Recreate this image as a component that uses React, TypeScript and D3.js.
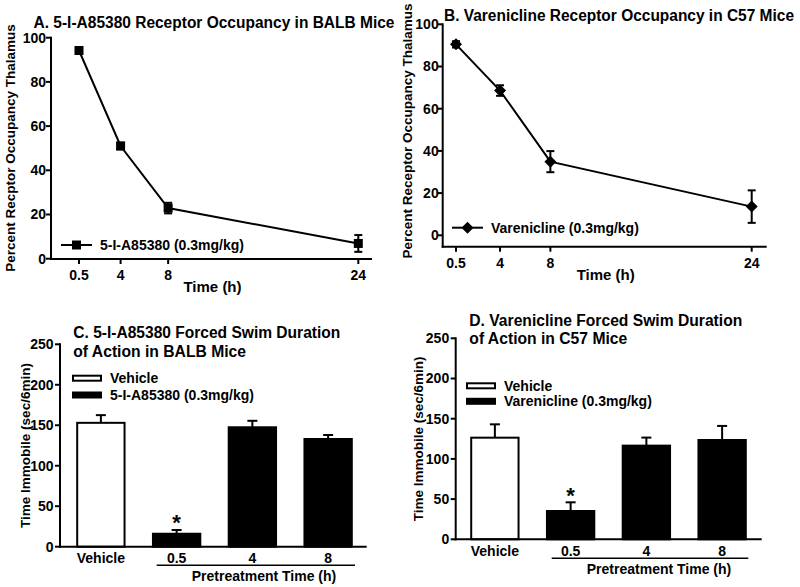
import React from "react";
import * as d3 from "d3";

// ---------- data ----------
const timeTicks = [0.5, 4, 8, 24];
const yTicksOcc = [0, 20, 40, 60, 80, 100];

const timesA = [0.5, 4, 8, 24];
const occA = [94.2, 51, 22.9, 6.9];
const occAErr = [1.2, 1.5, 2.4, 3.8];

const timesB = [0.5, 4, 8, 24];
const occB = [90.5, 68.6, 34.9, 13.6];
const occBErr = [1.5, 2.5, 5, 7.7];

const barCats = ["Vehicle", "0.5", "4", "8"];
const yTicksSwim = [0, 50, 100, 150, 200, 250];
const swimC = [153, 16, 147.5, 133];
const swimCErr = [9.5, 4.6, 8, 5];
const swimD = [126.4, 35.2, 116.5, 123.5];
const swimDErr = [16.6, 10.8, 10, 17.5];

const FONT = "'Liberation Sans', Arial, sans-serif";
const TICK_FS = 14;
const TITLE_FS = 15.8;

type LineProps = {
  title: string;
  titleX: number;
  titleY: number;
  titleLen: number;
  yLabel: string;
  yLabelX: number;
  yLabelY: number;
  xLeft: number;
  xRight: number;
  x05: number;
  x24: number;
  yTop: number;
  yZero: number;
  xAxisY: number;
  tickGap: number;
  times: number[];
  vals: number[];
  errs: number[];
  marker: "square" | "diamond";
  legend: string;
  legX: number;
  legY: number;
};

function Marker({ kind, x, y }: { kind: string; x: number; y: number }) {
  if (kind === "square") {
    return <rect x={x - 4.5} y={y - 4.5} width={9} height={9} fill="#000" />;
  }
  const r = 6;
  return (
    <path
      d={`M${x},${y - r}L${x + r},${y}L${x},${y + r}L${x - r},${y}Z`}
      fill="#000"
    />
  );
}

function LinePanel(p: LineProps) {
  const x = d3.scaleLinear().domain([0.5, 24]).range([p.x05, p.x24]);
  const y = d3.scaleLinear().domain([0, 100]).range([p.yZero, p.yTop]);
  const line = d3
    .line<number>()
    .x((_, i) => x(p.times[i]))
    .y((d) => y(d));
  return (
    <g>
      <text
        x={p.titleX}
        y={p.titleY}
        textAnchor="middle"
        fontSize={TITLE_FS}
        fontWeight="bold"
        fontFamily={FONT}
        dy="0.35em"
        textLength={p.titleLen}
        lengthAdjust="spacingAndGlyphs"
      >
        {p.title}
      </text>
      {/* y axis */}
      <line x1={p.xLeft} x2={p.xLeft} y1={p.yTop - 1} y2={p.xAxisY + 1} stroke="#000" strokeWidth={2} />
      {yTicksOcc.map((t) => (
        <g key={t}>
          <line x1={p.xLeft - 5} x2={p.xLeft} y1={y(t)} y2={y(t)} stroke="#000" strokeWidth={2} />
          <text
            x={p.xLeft - p.tickGap}
            y={y(t)}
            dy="0.35em"
            textAnchor="end"
            fontSize={TICK_FS}
            fontWeight="bold"
            fontFamily={FONT}
          >
            {t}
          </text>
        </g>
      ))}
      {/* x axis */}
      <line x1={p.xLeft - 1} x2={p.xRight} y1={p.xAxisY} y2={p.xAxisY} stroke="#000" strokeWidth={2} />
      {timeTicks.map((t) => (
        <g key={t}>
          <line x1={x(t)} x2={x(t)} y1={p.xAxisY} y2={p.xAxisY + 5} stroke="#000" strokeWidth={2} />
          <text
            x={x(t)}
            y={p.xAxisY + 16}
            dy="0.35em"
            textAnchor="middle"
            fontSize={TICK_FS}
            fontWeight="bold"
            fontFamily={FONT}
          >
            {t}
          </text>
        </g>
      ))}
      <text
        x={(p.xLeft + p.xRight) / 2 + 1}
        y={p.xAxisY + 28}
        dy="0.35em"
        textAnchor="middle"
        fontSize={15}
        fontWeight="bold"
        fontFamily={FONT}
      >
        Time (h)
      </text>
      <text
        transform={`translate(${p.yLabelX},${p.yLabelY}) rotate(-90)`}
        dy="0.35em"
        textAnchor="middle"
        fontSize={13.5}
        fontWeight="bold"
        fontFamily={FONT}
      >
        {p.yLabel}
      </text>
      {/* data */}
      <path d={line(p.vals) || ""} fill="none" stroke="#000" strokeWidth={2} />
      {p.vals.map((v, i) => {
        const cx = x(p.times[i]);
        const y1 = y(v + p.errs[i]);
        const y2 = y(v - p.errs[i]);
        return (
          <g key={i}>
            <line x1={cx} x2={cx} y1={y1} y2={y2} stroke="#000" strokeWidth={2} />
            <line x1={cx - 4} x2={cx + 4} y1={y1} y2={y1} stroke="#000" strokeWidth={2} />
            <line x1={cx - 4} x2={cx + 4} y1={y2} y2={y2} stroke="#000" strokeWidth={2} />
            <Marker kind={p.marker} x={cx} y={y(v)} />
          </g>
        );
      })}
      {/* legend */}
      <line x1={p.legX} x2={p.legX + 31} y1={p.legY} y2={p.legY} stroke="#000" strokeWidth={2} />
      <Marker kind={p.marker} x={p.legX + 15.5} y={p.legY} />
      <text
        x={p.legX + 39}
        y={p.legY}
        dy="0.35em"
        fontSize={TICK_FS}
        fontWeight="bold"
        fontFamily={FONT}
      >
        {p.legend}
      </text>
    </g>
  );
}

type BarProps = {
  title1: string;
  title2: string;
  title1Len: number;
  title2Len: number;
  titleX: number;
  titleY1: number;
  titleY2: number;
  xLeft: number;
  xRight: number;
  bandL: number;
  bandR: number;
  yTop: number;
  yZero: number;
  yLabelX: number;
  tickGap: number;
  vals: number[];
  errs: number[];
  legend: string;
  legX: number;
  legY1: number;
  legY2: number;
  catY: number;
  underY: number;
  underL: number;
  underR: number;
  pretreatX: number;
  pretreatY: number;
  starY: number;
};

function BarPanel(p: BarProps) {
  const x = d3
    .scaleBand<string>()
    .domain(barCats)
    .range([p.bandL, p.bandR])
    .paddingInner(0.375)
    .paddingOuter(0.1875);
  const y = d3.scaleLinear().domain([0, 250]).range([p.yZero, p.yTop]);
  const bw = x.bandwidth();
  return (
    <g>
      <text
        x={p.titleX}
        y={p.titleY1}
        dy="0.35em"
        fontSize={TITLE_FS}
        fontWeight="bold"
        fontFamily={FONT}
        textLength={p.title1Len}
        lengthAdjust="spacingAndGlyphs"
      >
        {p.title1}
      </text>
      <text
        x={p.titleX}
        y={p.titleY2}
        dy="0.35em"
        fontSize={TITLE_FS}
        fontWeight="bold"
        fontFamily={FONT}
        textLength={p.title2Len}
        lengthAdjust="spacingAndGlyphs"
      >
        {p.title2}
      </text>
      {/* bars */}
      {p.vals.map((v, i) => {
        const c = barCats[i];
        const x0 = x(c) as number;
        const cx = x0 + bw / 2;
        const top = y(v);
        const et = y(v + p.errs[i]);
        return (
          <g key={c}>
            <line x1={cx} x2={cx} y1={top} y2={et} stroke="#000" strokeWidth={2} />
            <line x1={cx - 5} x2={cx + 5} y1={et} y2={et} stroke="#000" strokeWidth={2} />
            <rect
              x={x0}
              y={top}
              width={bw}
              height={p.yZero - top}
              fill={i === 0 ? "#fff" : "#000"}
              stroke="#000"
              strokeWidth={2}
            />
          </g>
        );
      })}
      <text
        x={(x("0.5") as number) + bw / 2}
        y={p.starY}
        dy="0.7em"
        textAnchor="middle"
        fontSize={22}
        fontWeight="bold"
        fontFamily={FONT}
      >
        *
      </text>
      {/* axes */}
      <line x1={p.xLeft} x2={p.xLeft} y1={p.yTop - 1} y2={p.yZero + 1} stroke="#000" strokeWidth={2} />
      {yTicksSwim.map((t) => (
        <g key={t}>
          <line x1={p.xLeft - 5} x2={p.xLeft} y1={y(t)} y2={y(t)} stroke="#000" strokeWidth={2} />
          <text
            x={p.xLeft - p.tickGap}
            y={y(t)}
            dy="0.35em"
            textAnchor="end"
            fontSize={TICK_FS}
            fontWeight="bold"
            fontFamily={FONT}
          >
            {t}
          </text>
        </g>
      ))}
      <line x1={p.xLeft - 1} x2={p.xRight} y1={p.yZero} y2={p.yZero} stroke="#000" strokeWidth={2} />
      {barCats.map((c) => (
        <text
          key={c}
          x={(x(c) as number) + bw / 2}
          y={p.catY}
          dy="0.35em"
          textAnchor="middle"
          fontSize={TICK_FS}
          fontWeight="bold"
          fontFamily={FONT}
        >
          {c}
        </text>
      ))}
      <line x1={p.underL} x2={p.underR} y1={p.underY} y2={p.underY} stroke="#000" strokeWidth={1.5} />
      <text
        x={p.pretreatX}
        y={p.pretreatY}
        dy="0.35em"
        textAnchor="middle"
        fontSize={TICK_FS}
        fontWeight="bold"
        fontFamily={FONT}
      >
        Pretreatment Time (h)
      </text>
      <text
        transform={`translate(${p.yLabelX},${(p.yTop + p.yZero) / 2}) rotate(-90)`}
        dy="0.35em"
        textAnchor="middle"
        fontSize={13.5}
        fontWeight="bold"
        fontFamily={FONT}
      >
        Time Immobile (sec/6min)
      </text>
      {/* legend */}
      <rect x={p.legX} y={p.legY1 - 2.5} width={28} height={5} fill="#fff" stroke="#000" strokeWidth={2} />
      <text x={p.legX + 37} y={p.legY1} dy="0.35em" fontSize={TICK_FS} fontWeight="bold" fontFamily={FONT}>
        Vehicle
      </text>
      <rect x={p.legX} y={p.legY2 - 2.5} width={28} height={5} fill="#000" stroke="#000" strokeWidth={2} />
      <text x={p.legX + 37} y={p.legY2} dy="0.35em" fontSize={TICK_FS} fontWeight="bold" fontFamily={FONT}>
        {p.legend}
      </text>
    </g>
  );
}

export default function App() {
  return (
    <svg
      width={800}
      height={587}
      style={{ position: "absolute", left: 0, top: 0, background: "#fff" }}
    >
      <rect width={800} height={587} fill="#fff" />
      <LinePanel
        title="A. 5-I-A85380 Receptor Occupancy in BALB Mice"
        titleX={214}
        titleY={22}
        titleLen={361}
        yLabel="Percent Recptor Occupancy Thalamus"
        yLabelX={10}
        yLabelY={148}
        xLeft={51}
        xRight={372}
        x05={79}
        x24={358.3}
        yTop={37.7}
        yZero={258.7}
        xAxisY={259}
        tickGap={5}
        times={timesA}
        vals={occA}
        errs={occAErr}
        marker="square"
        legend="5-I-A85380 (0.3mg/kg)"
        legX={61}
        legY={245}
      />
      <LinePanel
        title="B. Varenicline Receptor Occupancy in C57 Mice"
        titleX={619}
        titleY={15}
        titleLen={350}
        yLabel="Percent Receptor Occupancy Thalamus"
        yLabelX={407}
        yLabelY={131}
        xLeft={442.7}
        xRight={766.7}
        x05={456}
        x24={751.7}
        yTop={24.3}
        yZero={235.3}
        xAxisY={246.7}
        tickGap={4}
        times={timesB}
        vals={occB}
        errs={occBErr}
        marker="diamond"
        legend="Varenicline (0.3mg/kg)"
        legX={452}
        legY={227.7}
      />
      <BarPanel
        title1="C. 5-I-A85380 Forced Swim Duration"
        title2="of Action in BALB Mice"
        title1Len={267}
        title2Len={172.7}
        titleX={73.3}
        titleY1={332.7}
        titleY2={351}
        xLeft={60}
        xRight={366.7}
        bandL={63}
        bandR={366}
        yTop={344.3}
        yZero={546.7}
        yLabelX={25}
        tickGap={6.5}
        vals={swimC}
        errs={swimCErr}
        legend="5-I-A85380 (0.3mg/kg)"
        legX={73}
        legY1={378.2}
        legY2={395}
        catY={557.7}
        underY={565.3}
        underL={156.7}
        underR={355}
        pretreatX={264}
        pretreatY={576}
        starY={515}
      />
      <BarPanel
        title1="D. Varenicline Forced Swim Duration"
        title2="of Action in C57 Mice"
        title1Len={273}
        title2Len={158}
        titleX={469.3}
        titleY1={320}
        titleY2={338.3}
        xLeft={455.7}
        xRight={761.7}
        bandL={457}
        bandR={760}
        yTop={338.3}
        yZero={539.3}
        yLabelX={418}
        tickGap={6.5}
        vals={swimD}
        errs={swimDErr}
        legend="Varenicline (0.3mg/kg)"
        legX={467}
        legY1={385.8}
        legY2={401.3}
        catY={551}
        underY={558.3}
        underL={551.7}
        underR={748.3}
        pretreatX={659}
        pretreatY={569.3}
        starY={488}
      />
    </svg>
  );
}
